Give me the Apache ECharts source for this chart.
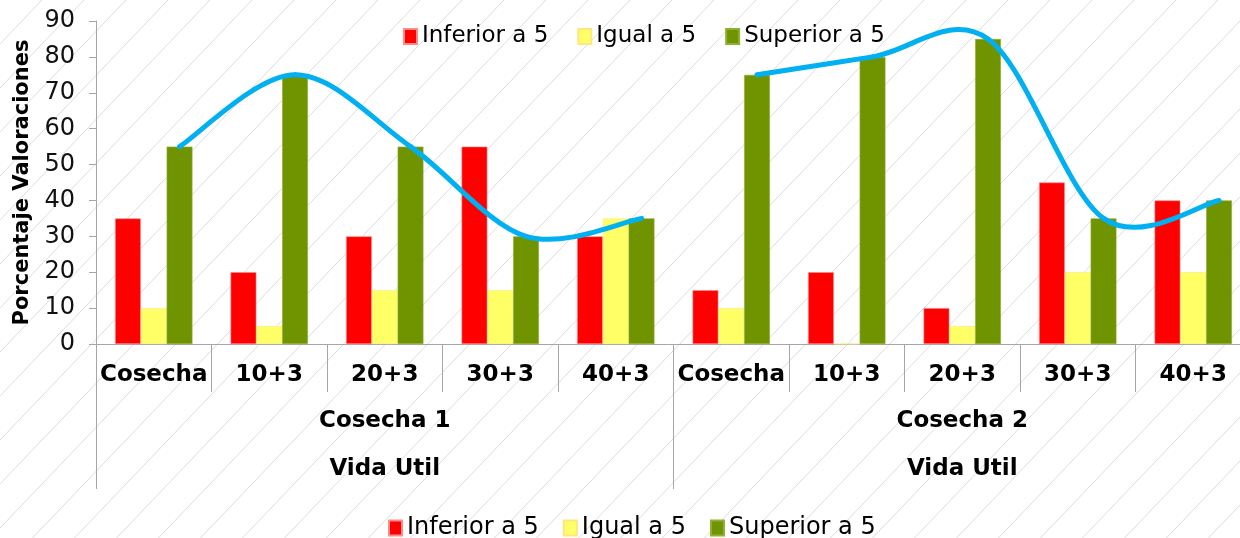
<!DOCTYPE html>
<html>
<head>
<meta charset="utf-8">
<script src="https://cdn.jsdelivr.net/npm/echarts@6/dist/echarts.min.js"></script>
<style>
  html, body { margin: 0; padding: 0; background: #fff; }
  #chart { width: 1240px; height: 538px; }
</style>
</head>
<body>
<div id="chart"></div>
<script>
var categories = ['Cosecha', '10+3', '20+3', '30+3', '40+3', 'Cosecha', '10+3', '20+3', '30+3', '40+3'];
var groups = ['Cosecha 1', 'Cosecha 2'];
var outerGroups = ['Vida Util', 'Vida Util'];
var inferior = [35, 20, 30, 55, 30, 15, 20, 10, 45, 40];
var igual = [10, 5, 15, 15, 35, 10, 0, 5, 20, 20];
var superior = [55, 75, 55, 30, 35, 75, 80, 85, 35, 40];
var yTicks = [0, 10, 20, 30, 40, 50, 60, 70, 80, 90];
var seriesNames = ['Inferior a 5', 'Igual a 5', 'Superior a 5'];
var perGroup = 5;

// faint diagonal stripes like the slide background
var tile = document.createElement('canvas');
tile.width = 42; tile.height = 44;
var ctx = tile.getContext('2d');
ctx.fillStyle = '#ffffff';
ctx.fillRect(0, 0, 42, 44);
ctx.strokeStyle = '#dcdcdc';
ctx.lineWidth = 1;
ctx.beginPath();
ctx.moveTo(-1, 45.05); ctx.lineTo(43, -1.05);
ctx.stroke();

var catGap = 0.33;
var greenOffset = (1 - catGap) / 3;   // green bar sits one bar-width right of the category centre

var trendData = superior.map(function (v, i) { return [i + greenOffset, v]; });

// Excel style smoothed line: catmull-rom through the green tops, one piece per data item
function renderTrend(params, api) {
    var i = params.dataIndex;
    var start = Math.floor(i / perGroup) * perGroup;
    var end = start + perGroup - 1;
    if (i >= end) return;
    var pt = function (k) {
        k = Math.max(start, Math.min(end, k));
        return api.coord(trendData[k]);
    };
    var p0 = pt(i - 1), p1 = pt(i), p2 = pt(i + 1), p3 = pt(i + 2);
    return {
        type: 'bezierCurve',
        shape: {
            x1: p1[0], y1: p1[1], x2: p2[0], y2: p2[1],
            cpx1: p1[0] + (p2[0] - p0[0]) / 6, cpy1: p1[1] + (p2[1] - p0[1]) / 6,
            cpx2: p2[0] - (p3[0] - p1[0]) / 6, cpy2: p2[1] - (p3[1] - p1[1]) / 6
        },
        style: { fill: null, stroke: '#00b0f0', lineWidth: 5, lineCap: 'round' }
    };
}

var myChart = echarts.init(document.getElementById('chart'));
var axisGrey = '#a6a6a6';
var font = 'DejaVu Sans, Arial, sans-serif';
var option = {
    backgroundColor: { image: tile, repeat: 'repeat' },
    animation: false,
    textStyle: { fontFamily: font },
    legend: [
        {
            data: seriesNames,
            left: 398, top: 20,
            itemWidth: 13, itemHeight: 15, itemGap: 29,
            icon: 'rect',
            textStyle: { fontSize: 23, color: '#000' }
        },
        {
            data: seriesNames,
            left: 383, top: 511,
            itemWidth: 13, itemHeight: 15, itemGap: 24,
            icon: 'rect',
            textStyle: { fontSize: 24, color: '#000' }
        }
    ],
    grid: { left: 96, top: 21, width: 1155, height: 323, outerBoundsMode: 'none', containLabel: false },
    xAxis: [
        {
            type: 'category',
            data: categories,
            axisLine: { lineStyle: { color: axisGrey } },
            axisTick: { show: true, length: 48, interval: 0, lineStyle: { color: axisGrey } },
            axisLabel: { interval: 0, margin: 20, fontSize: 23, fontWeight: 'bold', color: '#000' }
        },
        {
            type: 'category',
            data: groups,
            position: 'bottom',
            axisLine: { show: false },
            axisTick: { show: true, length: 145, interval: 0, lineStyle: { color: axisGrey } },
            axisLabel: { interval: 0, margin: 66, fontSize: 23, fontWeight: 'bold', color: '#000' }
        },
        {
            type: 'category',
            data: outerGroups,
            position: 'bottom',
            axisLine: { show: false },
            axisTick: { show: false },
            axisLabel: { interval: 0, margin: 114, fontSize: 23, fontWeight: 'bold', color: '#000' }
        },
        {
            type: 'value',
            min: -0.5,
            max: categories.length - 0.5,
            show: false
        }
    ],
    yAxis: {
        type: 'value',
        min: yTicks[0],
        max: yTicks[yTicks.length - 1],
        interval: 10,
        name: 'Porcentaje Valoraciones',
        nameLocation: 'middle',
        nameRotate: 90,
        nameGap: 63,
        nameTextStyle: { fontSize: 21, fontWeight: 'bold', color: '#000' },
        axisLine: { show: true, onZero: false, lineStyle: { color: axisGrey } },
        axisTick: { show: true, length: 7, lineStyle: { color: axisGrey } },
        axisLabel: { fontSize: 24, color: '#111', margin: 21 },
        splitLine: { show: false }
    },
    series: [
        {
            name: seriesNames[0], type: 'bar', data: inferior,
            barGap: '0%', barCategoryGap: (catGap * 100) + '%',
            itemStyle: { color: '#ff0000', borderColor: '#ff8a8a', borderWidth: 0.6 }
        },
        {
            name: seriesNames[1], type: 'bar', data: igual,
            itemStyle: { color: '#ffff66', borderColor: '#ffe680', borderWidth: 0.6 }
        },
        {
            name: seriesNames[2], type: 'bar', data: superior,
            itemStyle: { color: '#6f9400', borderColor: '#8fb030', borderWidth: 0.6 }
        },
        {
            type: 'custom', xAxisIndex: 3, yAxisIndex: 0,
            data: trendData,
            renderItem: renderTrend,
            z: 5
        }
    ]
};
myChart.setOption(option);
</script>
</body>
</html>
